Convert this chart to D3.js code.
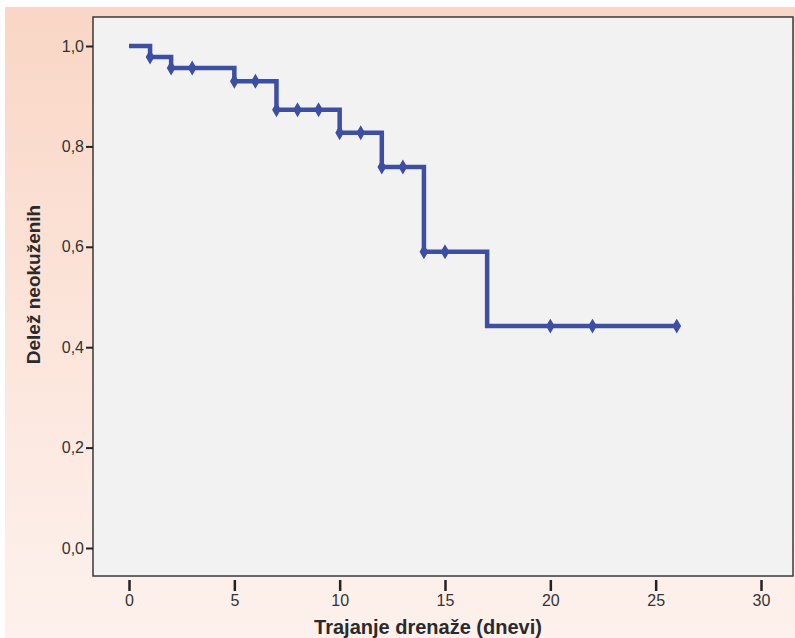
<!DOCTYPE html>
<html>
<head>
<meta charset="utf-8">
<script src="https://cdn.jsdelivr.net/npm/d3@7"></script>
<style>
  body { margin: 0; background: #fff; }
  svg { display: block; }
  .tick text { font-family: "Liberation Sans Narrow", "Liberation Sans", Arial, sans-serif; }
</style>
</head>
<body>
<svg id="chart" width="795" height="638"></svg>
<script>
// step times (days) and survival after each drop
const stepTimes = [0, 1, 2, 5, 7, 10, 12, 14, 17];
const stepValues = [1.0, 0.978, 0.956, 0.930, 0.873, 0.827, 0.759, 0.590, 0.442];
const endTime = 26;

// censored observations
const censorTimes = [1, 2, 3, 5, 6, 7, 8, 9, 10, 11, 12, 13, 14, 15, 20, 22, 26];

const xTicks = [0, 5, 10, 15, 20, 25, 30];
const yTicks = [0, 0.2, 0.4, 0.6, 0.8, 1.0];

const svg = d3.select("#chart");
const W = 795, H = 638;

// background gradient
let defs = svg.append("defs");
let grad = defs.append("linearGradient")
  .attr("id", "bg")
  .attr("x1", 0).attr("y1", 0).attr("x2", 0).attr("y2", 1);
grad.append("stop").attr("offset", "0%").attr("stop-color", "#f9d6c5");
grad.append("stop").attr("offset", "55%").attr("stop-color", "#fce6dc");
grad.append("stop").attr("offset", "100%").attr("stop-color", "#fdf1ed");

svg.append("rect")
  .attr("x", 5).attr("y", 7)
  .attr("width", W - 5).attr("height", H - 7)
  .style("fill", "url(#bg)");

// plot frame
const frame = {left: 93, top: 17, right: 793, bottom: 576};

const x = d3.scaleLinear().domain([0, 30]).range([129, 761]);
const y = d3.scaleLinear().domain([0, 1]).range([548, 46]);

svg.append("rect")
  .attr("x", frame.left).attr("y", frame.top)
  .attr("width", frame.right - frame.left)
  .attr("height", frame.bottom - frame.top)
  .style("fill", "#f2f2f2")
  .style("stroke", "#3a3a3a")
  .style("stroke-width", 1.5);

// y axis
let yAxis = svg.append("g")
  .attr("transform", `translate(${frame.left},0)`)
  .call(d3.axisLeft(y).tickValues(yTicks).tickSize(7).tickSizeOuter(0)
    .tickFormat(d => d3.format(".1f")(d).replace(".", ",")));
yAxis.select(".domain").remove();
yAxis.selectAll(".tick line").style("stroke", "#222").style("stroke-width", 2);
yAxis.selectAll(".tick text")
  .attr("x", -9)
  .style("font-size", "16px")
  .style("fill", "#333");

// x axis
let xAxis = svg.append("g")
  .attr("transform", `translate(0,${frame.bottom + 4})`)
  .call(d3.axisBottom(x).tickValues(xTicks).tickSize(11).tickSizeOuter(0));
xAxis.select(".domain").remove();
xAxis.selectAll(".tick line").style("stroke", "#222").style("stroke-width", 2.5);
xAxis.selectAll(".tick text")
  .attr("y", 15)
  .style("font-size", "16px")
  .style("fill", "#333");

// axis titles
svg.append("text")
  .attr("x", (frame.left + frame.right) / 2 - 15)
  .attr("y", 634)
  .attr("text-anchor", "middle")
  .style("font-family", "Liberation Sans, Arial, sans-serif")
  .style("font-weight", "bold")
  .style("font-size", "20px")
  .style("fill", "#2a2a2a")
  .text("Trajanje drenaže (dnevi)");

svg.append("text")
  .attr("transform", `translate(40,${(frame.top + frame.bottom) / 2 - 12}) rotate(-90)`)
  .attr("text-anchor", "middle")
  .style("font-family", "Liberation Sans, Arial, sans-serif")
  .style("font-weight", "bold")
  .style("font-size", "19px")
  .style("fill", "#2a2a2a")
  .text("Delež neokuženih");

// survival step line
let pts = stepTimes.map((t, i) => [t, stepValues[i]]);
pts.push([endTime, stepValues[stepValues.length - 1]]);

const line = d3.line()
  .x(d => x(d[0]))
  .y(d => y(d[1]))
  .curve(d3.curveStepAfter);

const blue = "#3d4fa3";

svg.append("path")
  .datum(pts)
  .attr("d", line)
  .style("fill", "none")
  .style("stroke", blue)
  .style("stroke-width", 4.5)
  .style("stroke-linejoin", "miter");

// survival at time t (right-continuous)
function survAt(t) {
  let s = stepValues[0];
  stepTimes.forEach((st, i) => { if (st <= t) s = stepValues[i]; });
  return s;
}

// censor marks
svg.append("g")
  .selectAll("path")
  .data(censorTimes)
  .join("path")
  .attr("transform", d => `translate(${x(d)},${y(survAt(d))})`)
  .attr("d", "M0,-6 L3.5,0 L0,6 L-3.5,0 Z")
  .style("fill", blue)
  .style("stroke", blue)
  .style("stroke-width", 1.5);
</script>
</body>
</html>
